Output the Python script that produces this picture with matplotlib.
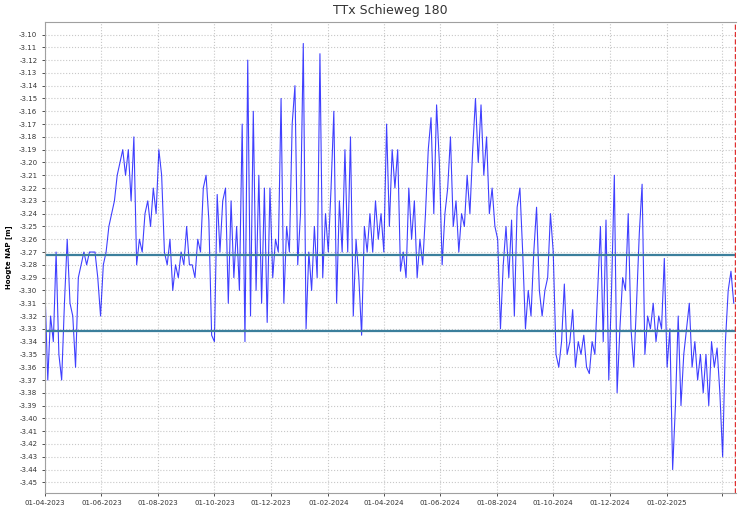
import pandas as pd
import matplotlib
matplotlib.use('Agg')
import matplotlib.pyplot as plt
import matplotlib.dates as mdates
from matplotlib.ticker import MultipleLocator, FormatStrFormatter, FuncFormatter

# Groundwater level, sampled every 3 days from 01-04-2023
start_date = '2023-04-01'
step = '3D'
levels = [
    -3.30, -3.37, -3.32, -3.34, -3.27, -3.35, -3.37, -3.31, -3.26, -3.31,
    -3.32, -3.36, -3.29, -3.28, -3.27, -3.28, -3.27, -3.27, -3.27, -3.29,
    -3.32, -3.28, -3.27, -3.25, -3.24, -3.23, -3.21, -3.20, -3.19, -3.21,
    -3.19, -3.23, -3.18, -3.28, -3.26, -3.27, -3.24, -3.23, -3.25, -3.22,
    -3.24, -3.19, -3.21, -3.27, -3.28, -3.26, -3.30, -3.28, -3.29, -3.27,
    -3.28, -3.25, -3.28, -3.28, -3.29, -3.26, -3.27, -3.22, -3.21, -3.245,
    -3.335, -3.34, -3.225, -3.27, -3.23, -3.22, -3.31, -3.23, -3.29, -3.25,
    -3.30, -3.17, -3.34, -3.12, -3.32, -3.16, -3.30, -3.21, -3.31, -3.22,
    -3.325, -3.22, -3.29, -3.26, -3.27, -3.15, -3.31, -3.25, -3.27, -3.17,
    -3.14, -3.28, -3.24, -3.107, -3.33, -3.27, -3.30, -3.25, -3.29, -3.115,
    -3.29, -3.24, -3.27, -3.22, -3.16, -3.31, -3.23, -3.27, -3.19, -3.27,
    -3.18, -3.32, -3.26, -3.29, -3.335, -3.25, -3.27, -3.24, -3.27, -3.23,
    -3.26, -3.24, -3.27, -3.17, -3.25, -3.19, -3.22, -3.19, -3.285, -3.27,
    -3.29, -3.22, -3.26, -3.23, -3.29, -3.26, -3.28, -3.24, -3.19, -3.165,
    -3.24, -3.155, -3.20, -3.28, -3.24, -3.22, -3.18, -3.25, -3.23, -3.27,
    -3.24, -3.25, -3.21, -3.24, -3.19, -3.15, -3.20, -3.155, -3.21, -3.18,
    -3.24, -3.22, -3.25, -3.26, -3.33, -3.28, -3.25, -3.29, -3.245, -3.32,
    -3.235, -3.22, -3.27, -3.33, -3.30, -3.32, -3.27, -3.235, -3.30, -3.32,
    -3.30, -3.29, -3.24, -3.27, -3.35, -3.36, -3.34, -3.295, -3.35, -3.34,
    -3.315, -3.36, -3.34, -3.35, -3.335, -3.36, -3.365, -3.34, -3.35, -3.30,
    -3.25, -3.34, -3.245, -3.37, -3.30, -3.21, -3.38, -3.33, -3.29, -3.30,
    -3.24, -3.33, -3.36, -3.31, -3.255, -3.217, -3.35, -3.32, -3.33, -3.31,
    -3.34, -3.32, -3.33, -3.275, -3.36, -3.33, -3.44, -3.39, -3.32, -3.39,
    -3.35, -3.33, -3.31, -3.36, -3.34, -3.37, -3.35, -3.38, -3.35, -3.39,
    -3.34, -3.36, -3.345, -3.38, -3.43, -3.34, -3.30, -3.285, -3.31,
]
dates = pd.date_range(start=start_date, periods=len(levels), freq=step)

# Threshold lines and "today" marker
upper_limit = -3.272
lower_limit = -3.332
today = pd.Timestamp('2025-04-15')
last_label = pd.Timestamp('2025-02-01')

fig = plt.figure(figsize=(7.5, 5.11), dpi=100)
ax = fig.add_axes([0.06, 0.036, 0.9208, 0.921])

ax.plot(dates, levels, color='#0000ff', lw=0.8, alpha=0.75)
ax.axhline(upper_limit, color='#3b7f9c', lw=1.6)
ax.axhline(lower_limit, color='#3b7f9c', lw=1.6)
ax.axvline(today, color='#e03030', lw=1.0, ls='--')

ax.set_xlim(pd.Timestamp(start_date), today + pd.Timedelta(days=1))
ax.set_ylim(-3.458, -3.0902)

ax.yaxis.set_major_locator(MultipleLocator(0.01))
ax.yaxis.set_major_formatter(FormatStrFormatter('%.2f'))
ax.xaxis.set_major_locator(mdates.MonthLocator(bymonth=[2, 4, 6, 8, 10, 12], bymonthday=1))

def date_label(x, pos):
    d = mdates.num2date(x).replace(tzinfo=None)
    if d > last_label:
        return ''
    return d.strftime('%d-%m-%Y')

ax.xaxis.set_major_formatter(FuncFormatter(date_label))

ax.tick_params(axis='both', labelsize=5, colors='#333333', length=2, width=0.6)
ax.grid(True, color='#c8c8c8', ls=':', lw=0.8)

for side in ['left', 'top', 'bottom']:
    ax.spines[side].set_color('#a0a0a0')
ax.spines['right'].set_visible(False)

ax.set_ylabel('Hoogte NAP [m]', fontsize=5, fontweight='bold')
ax.yaxis.set_label_coords(-0.048, 0.5)
ax.set_title('TTx Schieweg 180', fontsize=9, color='#333333', pad=6)

fig.savefig('out.png', dpi=100)
